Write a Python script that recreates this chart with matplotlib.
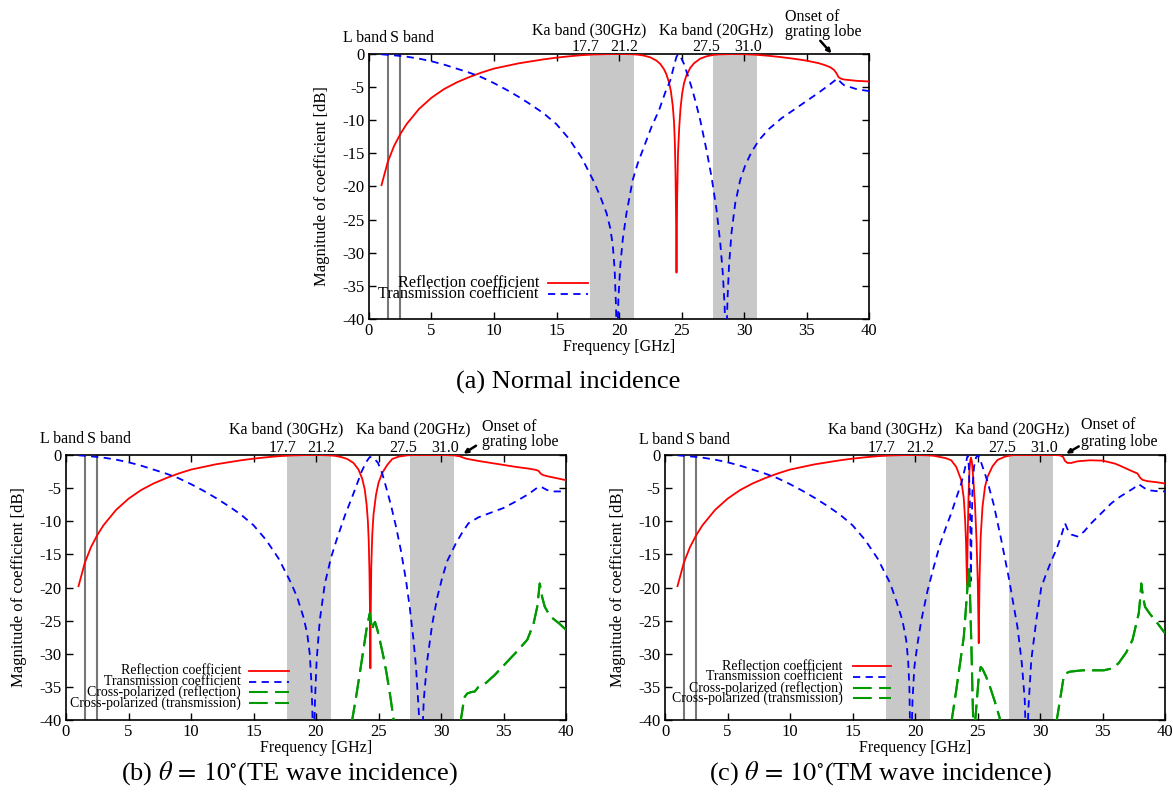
"""
fss_coefficients.py -- reflection / transmission magnitude of the dual-band
FSS for (a) normal incidence, (b) TE 10 deg and (c) TM 10 deg, gnuplot look.
"""
import matplotlib

matplotlib.use("Agg")
import matplotlib.pyplot as plt

plt.rcParams["font.family"] = ["Liberation Serif", "DejaVu Serif"]
plt.rcParams["mathtext.fontset"] = "stix"
plt.rcParams["axes.unicode_minus"] = False

# ---- shared annotations -------------------------------------------------
BANDS = [(17.7, 21.2), (27.5, 31.0)]
LS_LINES = [1.5, 2.5]
X_TICKS = list(range(0, 41, 5))
Y_TICKS = list(range(-40, 1, 5))

# ---- (a) normal incidence -----------------------------------------------
normal_refl_f = [1, 1.5, 2, 2.5, 3, 4, 5, 6, 7, 8, 9, 10, 11, 12, 13, 14, 15, 16, 17, 18, 19, 20,
                 21, 21.5, 22, 22.5, 23, 23.3, 23.6, 23.8, 24.0, 24.15, 24.3, 24.4, 24.47, 24.52,
                 24.56, 24.6, 24.65, 24.72, 24.82, 24.92, 25.05, 25.2, 25.4, 25.7, 26.0, 26.5,
                 27, 27.5, 28, 29, 30, 31, 32, 33, 34, 35, 36, 36.5, 36.9, 37.2, 37.4, 37.5,
                 37.6, 37.8, 38, 38.5, 39, 40]
normal_refl_db = [-19.8, -16.3, -13.9, -12.1, -10.6, -8.3, -6.6, -5.3, -4.3, -3.5, -2.8, -2.2,
                  -1.8, -1.4, -1.1, -0.8, -0.55, -0.35, -0.18, -0.07, -0.02, 0, -0.03, -0.1,
                  -0.25, -0.5, -1.0, -1.5, -2.3, -3.1, -4.3, -5.6, -7.8, -10.2, -13.5, -18,
                  -24, -33, -22, -15, -11, -8.2, -6.0, -4.4, -3.2, -2.1, -1.4, -0.7, -0.35,
                  -0.15, -0.06, -0.01, -0.03, -0.12, -0.28, -0.48, -0.72, -1.0, -1.4, -1.7,
                  -2.0, -2.4, -2.9, -3.3, -3.55, -3.75, -3.85, -3.95, -4.05, -4.15]
normal_trans_f = [1, 2, 3, 4, 5, 6, 7, 8, 9, 10, 11, 12, 13, 14, 15, 16, 17, 18, 18.5, 19, 19.3,
                  19.5, 19.65, 19.75, 19.82, 19.88, 19.95, 20.1, 20.3, 20.6, 21.1, 21.5, 22.1,
                  22.6, 23.2, 23.7, 24.1, 24.4, 24.6, 24.75, 24.9, 25.2, 25.5, 25.8, 26.1, 26.5,
                  27, 27.4, 27.8, 28.1, 28.3, 28.45, 28.52, 28.6, 28.68, 28.8, 29.0, 29.3, 29.7,
                  30.1, 30.6, 31.2, 32, 33, 34, 35, 36, 36.5, 37, 37.3, 37.5, 37.7, 38, 38.5,
                  39, 40]
normal_trans_db = [-0.05, -0.2, -0.4, -0.7, -1.1, -1.6, -2.2, -2.8, -3.5, -4.4, -5.4, -6.5,
                   -7.7, -9.0, -10.6, -12.8, -15.6, -19.3, -21.5, -24.0, -26.3, -28.8, -32.5,
                   -37.5, -43, -43, -37, -32, -28, -24, -19, -16.5, -13.5, -11, -8.5, -5.8,
                   -4.0, -1.8, -0.4, -0.05, -0.3, -1.5, -3.2, -5.0, -7.0, -10.0, -14.5, -18.5,
                   -23.5, -28.5, -33, -38, -43, -43, -37, -32, -27, -22.5, -19, -16.8, -14.8,
                   -13, -11.3, -9.7, -8.4, -7.1, -5.8, -5.1, -4.4, -3.95, -3.7, -4.2, -4.7,
                   -5.0, -5.3, -5.6]

# ---- (b) theta = 10 deg, TE ---------------------------------------------
te_refl_f = [1, 1.5, 2, 2.5, 3, 4, 5, 6, 7, 8, 9, 10, 11, 12, 13, 14, 15, 16, 17, 18, 19, 20, 21,
             21.5, 22, 22.5, 23, 23.4, 23.7, 23.9, 24.05, 24.15, 24.22, 24.28, 24.32, 24.35,
             24.38, 24.42, 24.5, 24.6, 24.8, 25.0, 25.3, 25.7, 26.1, 26.6, 27.3, 28, 29, 30,
             31, 31.5, 32, 33, 34, 35, 36, 37, 37.6, 37.8, 38.0, 38.2, 38.5, 39, 39.5, 40]
te_refl_db = [-19.8, -16.3, -13.9, -12.1, -10.6, -8.3, -6.6, -5.3, -4.3, -3.5, -2.8, -2.2, -1.8,
              -1.4, -1.1, -0.8, -0.55, -0.35, -0.18, -0.07, -0.02, 0, -0.05, -0.12, -0.3, -0.6,
              -1.2, -2.2, -3.6, -5.2, -7.5, -10, -13, -18, -24, -32.2, -24, -17, -12, -9,
              -6.0, -4.2, -2.7, -1.5, -0.6, -0.25, -0.05, 0, 0, 0, -0.05, -0.2, -0.55, -0.9,
              -1.2, -1.5, -1.8, -2.05, -2.25, -2.4, -2.85, -3.05, -3.2, -3.4, -3.6, -3.8]
te_trans_f = [1, 2, 3, 4, 5, 6, 7, 8, 9, 10, 11, 12, 13, 14, 15, 16, 17, 18, 18.5, 19, 19.3, 19.5,
              19.62, 19.7, 19.76, 19.83, 19.92, 20.05, 20.3, 20.7, 21.2, 21.65, 22.3, 23.0,
              23.65, 24.0, 24.3, 24.6, 24.96, 25.3, 25.6, 26.0, 26.4, 26.8, 27.2, 27.5, 27.8,
              28.0, 28.2, 28.35, 28.5, 28.62, 28.9, 29.3, 29.7, 30.1, 30.5, 31.2, 31.7, 32.2,
              33, 34, 35, 36, 37, 37.8, 38.1, 38.5, 39, 40]
te_trans_db = [-0.05, -0.2, -0.4, -0.7, -1.1, -1.6, -2.2, -2.8, -3.5, -4.4, -5.4, -6.5, -7.7,
               -9.0, -10.6, -12.8, -15.6, -19.3, -21.5, -24.5, -27, -30, -34, -38, -43, -43,
               -37, -31, -25, -19.5, -15.5, -12.8, -9.2, -5.8, -2.5, -1.1, -0.3, -0.4, -1.2,
               -2.8, -4.8, -7.6, -10.8, -14.5, -18.9, -23, -27.9, -32, -38, -43, -43, -37,
               -31, -25.5, -21.5, -18.5, -16, -13.3, -11.7, -10.3, -9.4, -8.7, -8.0, -7.0,
               -5.9, -4.8, -4.9, -5.3, -5.5, -5.5]
te_xpol_f = [22.85, 23.2, 23.5, 23.8, 24.05, 24.3, 24.42, 24.5, 24.6, 24.72, 24.9, 25.1, 25.4,
             25.65, 25.95, 26.25, None, 31.55, 31.75, 31.9, 32.1, 32.4, 32.7, 33.0, 33.6, 34.3,
             35.2, 36.0, 36.9, 37.4, 37.7, 37.9, 38.1, 38.3, 38.6, 38.9, 39.5, 40]
te_xpol_db = [-40.5, -36.6, -33, -29.3, -26.2, -23.9, -25.5, -26.4, -25.6, -25.2, -26.3, -27.9,
              -30.5, -33, -36.5, -40.5, None, -40.5, -38, -36.5, -36, -35.8, -35.7, -35.0,
              -34.4, -33.2, -31.4, -29.8, -27.9, -25.5, -22.9, -19.4, -21.5, -22.9, -23.9,
              -24.6, -25.5, -26.4]

# ---- (c) theta = 10 deg, TM ---------------------------------------------
tm_refl_f = [1, 1.5, 2, 2.5, 3, 4, 5, 6, 7, 8, 9, 10, 11, 12, 13, 14, 15, 16, 17, 18, 19, 20, 21,
             21.5, 22, 22.5, 22.9, 23.3, 23.7, 23.9, 24.0, 24.08, 24.16, 24.22, 24.28, 24.35,
             24.42, 24.48, 24.55, 24.65, 24.8, 24.92, 25.02, 25.1, 25.16, 25.25, 25.4, 25.6,
             25.8, 26.2, 26.6, 27.2, 27.7, 28, 29, 30, 31, 31.6, 31.85, 32.0, 32.2, 32.5, 33,
             34, 35, 36, 36.5, 37.2, 37.8, 38.0, 38.2, 38.6, 39.3, 40]
tm_refl_db = [-19.8, -16.3, -13.9, -12.1, -10.6, -8.3, -6.6, -5.3, -4.3, -3.5, -2.8, -2.2, -1.8,
              -1.4, -1.1, -0.8, -0.55, -0.35, -0.18, -0.07, -0.02, 0, -0.05, -0.12, -0.3, -0.5,
              -0.8, -1.8, -3.8, -6.5, -9.5, -13, -19.6, -12, -6.5, -2.5, -0.8, -0.4, -1.0,
              -3.2, -7.5, -12.8, -19, -28.4, -19, -12.5, -7.8, -4.8, -3.3, -1.7, -0.75,
              -0.25, -0.05, 0, 0, 0, 0, -0.05, -0.3, -0.9, -1.2, -1.2, -0.95, -0.8, -0.85,
              -1.3, -1.7, -2.3, -2.8, -3.4, -3.75, -3.95, -4.1, -4.3]
tm_trans_f = [1, 2, 3, 4, 5, 6, 7, 8, 9, 10, 11, 12, 13, 14, 15, 16, 17, 18, 18.5, 19, 19.3,
              19.45, 19.55, 19.62, 19.72, 19.8, 19.95, 20.2, 20.5, 21.0, 21.5, 22.0, 22.5, 22.9,
              23.3, 23.7, 24.0, 24.15, 24.22, 24.3, 24.38, 24.43, 24.47, 24.52, 24.6, 24.72,
              24.88, 25.02, 25.2, 25.5, 25.8, 26.3, 26.9, 27.5, 28.2, 28.55, 28.78, 28.87,
              28.98, 29.08, 29.3, 29.7, 30.1, 30.5, 30.9, 31.3, 31.7, 32.0, 32.2, 32.5, 33.0,
              33.5, 34.1, 34.9, 35.7, 36.4, 37.0, 37.5, 37.9, 38.2, 38.6, 39.3, 40]
tm_trans_db = [-0.05, -0.2, -0.4, -0.7, -1.1, -1.6, -2.2, -2.8, -3.5, -4.4, -5.4, -6.5, -7.7,
               -9.0, -10.6, -12.8, -15.6, -19.3, -22, -25, -28, -31, -35, -43, -43, -37, -32,
               -28.5, -25, -20.5, -16.9, -13.5, -10.8, -8.8, -6.5, -4.3, -2.0, -0.5, -0.1,
               -1.5, -6, -12, -19, -12, -5, -1.8, -0.4, 0, -0.6, -2.3, -4.0, -7.5, -12.8,
               -18.5, -26, -31.5, -37, -43, -43, -38, -31, -25, -20, -17.9, -16, -14.3,
               -12.2, -10.3, -11.2, -12.0, -12.3, -11.6, -10.3, -8.8, -7.3, -6.3, -5.6, -5.0,
               -4.4, -4.8, -5.3, -5.45, -5.5]
tm_xpol_f = [22.9, 23.3, 23.6, 23.9, 24.1, 24.25, 24.32, 24.4, 24.5, 24.6, 24.66, None,
             24.8, 24.95, 25.1, 25.25, 25.4, 25.7, 26.0, 26.4, 26.9, None,
             31.3, 31.6, 31.85, 32.0, 32.4, 33.4, 34.5, 35.1, 35.8, 36.3, 36.9, 37.4, 37.7,
             37.9, 38.05, 38.1, 38.25, 38.4, 38.8, 39.2, 39.6, 40]
tm_xpol_db = [-40.5, -35.5, -31.5, -27.5, -22.5, -18.5, -17.1, -21, -28, -36, -40.5, None,
              -40.5, -37, -33.5, -32, -32.3, -33.5, -35, -37.3, -40.5, None,
              -40.5, -37, -34, -33, -32.7, -32.5, -32.5, -32.5, -32.2, -31.4, -29.8, -27.9,
              -25.5, -23.9, -21, -19.4, -21.5, -22.9, -24, -24.9, -25.9, -26.9]

LEGEND_LABELS = ["Reflection coefficient", "Transmission coefficient",
                 "Cross-polarized (reflection)", "Cross-polarized (transmission)"]

RED, BLUE, GREEN, GRAY = "#ff0000", "#0000ff", "#009a00", "#c8c8c8"
refl_style = dict(color=RED, lw=1.3)
trans_style = dict(color=BLUE, lw=1.3, linestyle=(0, (4, 3)))
xpol_style = dict(color=GREEN, lw=1.5, linestyle=(0, (9, 3.5)))
ANNOT_SIZE = 11.5


def nan_split(values):
    return [float("nan") if v is None else v for v in values]


def draw_panel(ax, curves, key_x, key_y, key_size, label_y, onset_y, arrow):
    """One gnuplot-style panel: shaded Ka bands, L/S lines, curves, manual key."""
    for lo, hi in BANDS:
        ax.axvspan(lo, hi, color=GRAY, lw=0, zorder=0)
    for f in LS_LINES:
        ax.axvline(f, color="#777777", lw=1.5, zorder=1)

    for f, db, style in curves:
        ax.plot(nan_split(f), nan_split(db), zorder=3, **style)

    ax.set_xlim(0, 40)
    ax.set_ylim(-40, 0)
    ax.set_xticks(X_TICKS)
    ax.set_yticks(Y_TICKS)
    ax.tick_params(direction="in", top=True, right=True, length=5, width=1,
                   labelsize=12, pad=3)
    for s in ax.spines.values():
        s.set_linewidth(1.2)
    ax.set_xlabel("Frequency [GHz]", fontsize=11.5, labelpad=0)
    ax.set_ylabel("Magnitude of coefficient [dB]", fontsize=12, labelpad=9)

    # gnuplot-style key: right-aligned text with the line sample to its right
    text_x, line_x0, line_x1 = key_x
    for (_, _, style), label, y in zip(curves, LEGEND_LABELS, key_y):
        ax.text(text_x, y, label, ha="right", va="center", fontsize=key_size, zorder=5)
        ax.plot([line_x0, line_x1], [y, y], zorder=5, **style)

    ka_y, num_y, ls_y = label_y
    kw = dict(ha="center", va="center", fontsize=ANNOT_SIZE, clip_on=False)
    ax.text(-0.3, ls_y, "L band", **kw)
    ax.text(3.45, ls_y, "S band", **kw)
    ax.text(17.6, ka_y, "Ka band (30GHz)", **kw)
    ax.text(27.75, ka_y, "Ka band (20GHz)", **kw)
    for x, s in [(17.3, "17.7"), (20.45, "21.2"), (27.0, "27.5"), (30.35, "31.0")]:
        ax.text(x, num_y, s, **kw)
    onset1, onset2 = onset_y
    ax.text(33.3, onset1, "Onset of", ha="left", va="center", fontsize=ANNOT_SIZE, clip_on=False)
    ax.text(33.3, onset2, "grating lobe", ha="left", va="center", fontsize=ANNOT_SIZE,
            clip_on=False)
    ax.annotate("", xy=arrow[1], xytext=arrow[0], annotation_clip=False,
                arrowprops=dict(arrowstyle="-|>", lw=1.8, color="k", mutation_scale=6,
                                shrinkA=0, shrinkB=0))


fig = plt.figure(figsize=(11.73, 7.96), dpi=100)
ax_a = fig.add_axes([369 / 1173, 1 - 319 / 796, 500 / 1173, 265 / 796])
ax_b = fig.add_axes([66 / 1173, 1 - 720 / 796, 500 / 1173, 265 / 796])
ax_c = fig.add_axes([665 / 1173, 1 - 720 / 796, 500 / 1173, 265 / 796])

draw_panel(
    ax_a,
    [(normal_refl_f, normal_refl_db, refl_style),
     (normal_trans_f, normal_trans_db, trans_style)],
    (13.6, 14.3, 17.5), [-34.6, -36.2], 11.7,
    (3.5, 1.05, 2.4), (5.6, 3.3), ((36.1, 2.0), (37.0, 0.1)),
)
draw_panel(
    ax_b,
    [(te_refl_f, te_refl_db, refl_style),
     (te_trans_f, te_trans_db, trans_style),
     (te_xpol_f, te_xpol_db, xpol_style),
     (te_xpol_f, te_xpol_db, xpol_style)],
    (14.0, 14.6, 17.8), [-32.6, -34.2, -35.8, -37.4], 10,
    (3.8, 1.05, 2.4), (4.3, 1.9), ((32.8, 1.4), (31.8, 0.2)),
)
draw_panel(
    ax_c,
    [(tm_refl_f, tm_refl_db, refl_style),
     (tm_trans_f, tm_trans_db, trans_style),
     (tm_xpol_f, tm_xpol_db, xpol_style),
     (tm_xpol_f, tm_xpol_db, xpol_style)],
    (14.2, 15.0, 18.1), [-31.9, -33.5, -35.1, -36.7], 10,
    (3.8, 1.05, 2.2), (4.5, 2.0), ((33.1, 1.3), (32.1, 0.2)),
)

fig.text(568 / 1173, 1 - 382 / 796, "(a) Normal incidence", ha="center", va="center", fontsize=19)
fig.text(290 / 1173, 1 - 773 / 796, r"(b) $\theta\,=\,10^{\circ}$(TE wave incidence)",
         ha="center", va="center", fontsize=19)
fig.text(880 / 1173, 1 - 773 / 796, r"(c) $\theta\,=\,10^{\circ}$(TM wave incidence)",
         ha="center", va="center", fontsize=19)

fig.savefig("out.png", dpi=100)
